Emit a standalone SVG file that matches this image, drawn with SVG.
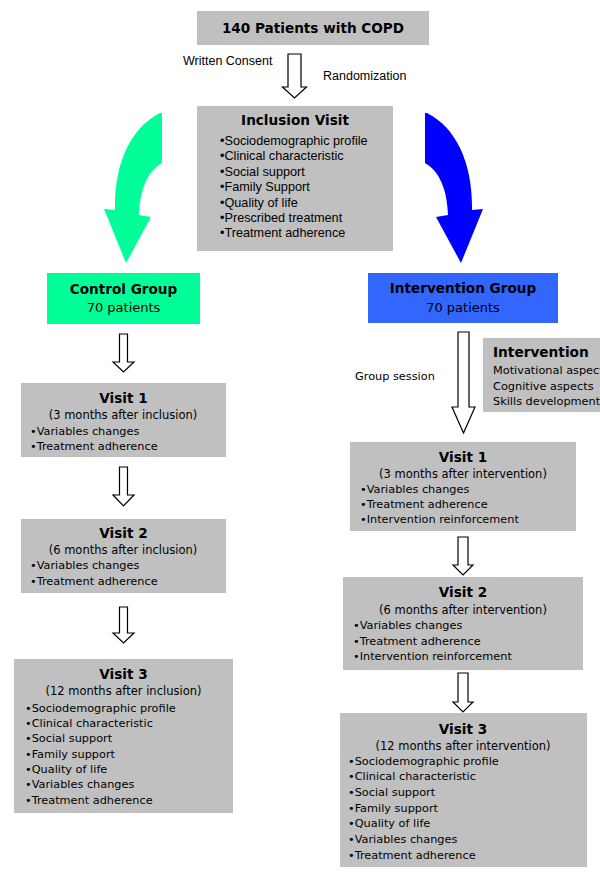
<svg xmlns="http://www.w3.org/2000/svg" width="600" height="881" viewBox="0 0 600 881">
<style>
.box{fill:#c0c0c0}
.t{font-family:"DejaVu Sans",Verdana,sans-serif;fill:#000}
.h{font-weight:bold;font-size:13.6px;text-anchor:middle}
.sub{font-size:11.5px;text-anchor:middle}
.it{font-size:11.3px}
.a{font-family:"Liberation Sans",Arial,sans-serif;fill:#000}
.ho{fill:#fff;stroke:#000;stroke-width:1.2;stroke-linejoin:miter}
</style>
<rect width="600" height="881" fill="#fff"/>

<g id="connectors">
<path class="ho" d="M288,54 L301,54 L301,87 L306.5,87 L294.5,98 L282.5,87 L288,87 Z"/>
<path id="green-arrow" fill="#00ff99" d="M160,113 L162,113 L162,163 C150,170 140,185 139,215 L151,217 L126,263 L104,209 L115,210 C114,165 130,128 160,113 Z"/>
<path id="blue-arrow" fill="#0000ff" transform="translate(587,0) scale(-1,1)" d="M160,113 L162,113 L162,163 C150,170 140,185 139,215 L151,217 L126,263 L104,209 L115,210 C114,165 130,128 160,113 Z"/>
<path class="ho" d="M119.5,334 L127.5,334 L127.5,362 L134,362 L123.5,372 L113,362 L119.5,362 Z"/>
<path class="ho" d="M119.5,467 L127.5,467 L127.5,495 L134,495 L123.5,506 L113,495 L119.5,495 Z"/>
<path class="ho" d="M119.5,607 L127.5,607 L127.5,633 L134,633 L123.5,643 L113,633 L119.5,633 Z"/>
<path class="ho" d="M458,332 L469,332 L469,407 L475,407 L463.5,433 L452,407 L458,407 Z"/>
<path class="ho" d="M458,537 L468,537 L468,565 L473,565 L463,575 L453,565 L458,565 Z"/>
<path class="ho" d="M458,673 L468,673 L468,702 L473,702 L463,712 L453,702 L458,702 Z"/>
<text class="a" x="183" y="65" font-size="12.5">Written Consent</text>
<text class="a" x="323" y="80" font-size="12.5">Randomization</text>
<text class="t" x="355" y="379.5" font-size="11.3">Group session</text>
</g>

<g id="patients">
<rect class="box" x="197" y="11" width="232" height="34"/>
<text class="t h" x="313" y="32.5" font-size="13.6">140 Patients with COPD</text>
</g>

<g id="inclusion-visit">
<rect class="box" x="197" y="106" width="196" height="145"/>
<text class="t h" x="295" y="125">Inclusion Visit</text>
<g class="a" font-size="12.7">
<text x="220" y="144.7">•Sociodemographic profile</text>
<text x="220" y="160.1">•Clinical characteristic</text>
<text x="220" y="175.6">•Social support</text>
<text x="220" y="191">•Family Support</text>
<text x="220" y="206.5">•Quality of life</text>
<text x="220" y="221.9">•Prescribed treatment</text>
<text x="220" y="237.4">•Treatment adherence</text>
</g>
</g>

<g id="control-group">
<rect x="47" y="273" width="153" height="51" fill="#00ff99"/>
<text class="t h" x="123.5" y="294">Control Group</text>
<text class="t" x="123.5" y="312" font-size="13" text-anchor="middle">70 patients</text>
</g>

<g id="intervention-group">
<rect x="368" y="273" width="190" height="50" fill="#3366ff"/>
<text class="t h" x="463" y="293">Intervention Group</text>
<text class="t" x="463" y="311.5" font-size="13" text-anchor="middle">70 patients</text>
</g>

<g id="intervention">
<rect class="box" x="483" y="338" width="118" height="74"/>
<text class="t" x="493" y="357" font-size="13.7" font-weight="bold">Intervention</text>
<text class="t it" x="493" y="374">Motivational aspects</text>
<text class="t it" x="493" y="389.5">Cognitive aspects</text>
<text class="t it" x="493" y="405">Skills development</text>
</g>

<g id="control-visit1">
<rect class="box" x="21" y="383" width="205" height="74"/>
<text class="t h" x="123.5" y="403">Visit 1</text>
<text class="t sub" x="123" y="418.5">(3 months after inclusion)</text>
<text class="t it" x="30" y="434.5">•Variables changes</text>
<text class="t it" x="30" y="450">•Treatment adherence</text>
</g>

<g id="control-visit2">
<rect class="box" x="21" y="519" width="205" height="74"/>
<text class="t h" x="123.5" y="538">Visit 2</text>
<text class="t sub" x="123" y="554">(6 months after inclusion)</text>
<text class="t it" x="30" y="569">•Variables changes</text>
<text class="t it" x="30" y="584.5">•Treatment adherence</text>
</g>

<g id="control-visit3">
<rect class="box" x="14" y="659" width="219" height="154"/>
<text class="t h" x="123.5" y="679">Visit 3</text>
<text class="t sub" x="123.5" y="695">(12 months after inclusion)</text>
<text class="t it" x="25" y="711.5">•Sociodemographic profile</text>
<text class="t it" x="25" y="726.8">•Clinical characteristic</text>
<text class="t it" x="25" y="742.2">•Social support</text>
<text class="t it" x="25" y="757.5">•Family support</text>
<text class="t it" x="25" y="772.8">•Quality of life</text>
<text class="t it" x="25" y="788.2">•Variables changes</text>
<text class="t it" x="25" y="803.5">•Treatment adherence</text>
</g>

<g id="intervention-visit1">
<rect class="box" x="350" y="442" width="226" height="89"/>
<text class="t h" x="463" y="462">Visit 1</text>
<text class="t sub" x="463" y="477.5">(3 months after intervention)</text>
<text class="t it" x="360" y="493">•Variables changes</text>
<text class="t it" x="360" y="508">•Treatment adherence</text>
<text class="t it" x="360" y="523">•Intervention reinforcement</text>
</g>

<g id="intervention-visit2">
<rect class="box" x="343" y="577" width="240" height="93"/>
<text class="t h" x="463" y="597">Visit 2</text>
<text class="t sub" x="463" y="613.5">(6 months after intervention)</text>
<text class="t it" x="353" y="629">•Variables changes</text>
<text class="t it" x="353" y="644.5">•Treatment adherence</text>
<text class="t it" x="353" y="660">•Intervention reinforcement</text>
</g>

<g id="intervention-visit3">
<rect class="box" x="340" y="713" width="247" height="154"/>
<text class="t h" x="463" y="734">Visit 3</text>
<text class="t sub" x="463" y="749.5">(12 months after intervention)</text>
<text class="t it" x="348" y="764.5">•Sociodemographic profile</text>
<text class="t it" x="348" y="780.2">•Clinical characteristic</text>
<text class="t it" x="348" y="795.8">•Social support</text>
<text class="t it" x="348" y="811.5">•Family support</text>
<text class="t it" x="348" y="827.2">•Quality of life</text>
<text class="t it" x="348" y="842.8">•Variables changes</text>
<text class="t it" x="348" y="858.5">•Treatment adherence</text>
</g>
</svg>
